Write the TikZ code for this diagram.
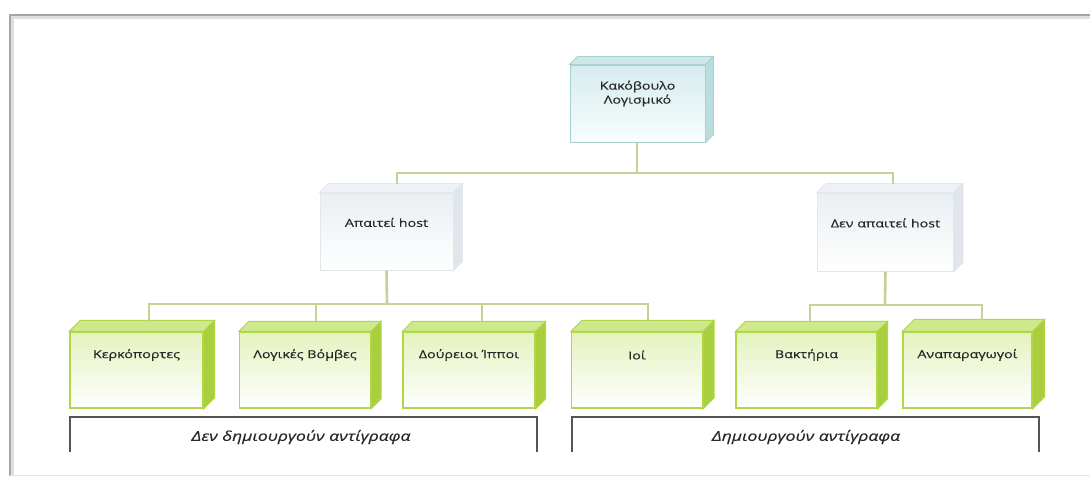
\documentclass[tikz,border=0pt]{standalone}
\usepackage{fontspec}
\setmainfont[FakeStretch=1.3,FakeBold=0.35]{Open Sans}
\definecolor{gborder}{RGB}{178,215,70}
\definecolor{gfronttop}{RGB}{228,242,190}
\definecolor{gtopface}{RGB}{206,232,140}
\definecolor{gside}{RGB}{170,207,62}
\definecolor{tborder}{RGB}{166,210,212}
\definecolor{tfronttop}{RGB}{214,236,238}
\definecolor{ttopface}{RGB}{206,232,234}
\definecolor{tside}{RGB}{186,222,224}
\definecolor{hborder}{RGB}{226,231,236}
\definecolor{hfronttop}{RGB}{234,239,243}
\definecolor{htopface}{RGB}{238,241,245}
\definecolor{hside}{RGB}{224,230,236}
\definecolor{conn}{RGB}{200,208,150}
\definecolor{txt}{RGB}{40,40,40}
\definecolor{brk}{RGB}{85,85,85}
\tikzset{
  gfront/.style={draw=gborder, line width=1.3pt, top color=gfronttop, bottom color=white, inner sep=0pt},
  gtop/.style={draw=gborder, line width=1pt, fill=gtopface},
  gsideface/.style={draw=gborder, line width=1pt, fill=gside},
  tfront/.style={draw=tborder, line width=1pt, top color=tfronttop, bottom color=white!85!tfronttop, inner sep=0pt},
  ttop/.style={draw=tborder, line width=0.8pt, fill=ttopface},
  tsideface/.style={draw=tborder, line width=0.8pt, fill=tside},
  hfront/.style={draw=hborder, line width=1pt, top color=hfronttop, bottom color=white, inner sep=0pt},
  htop/.style={draw=hborder, line width=0.8pt, fill=htopface},
  hsideface/.style={draw=hborder, line width=0.8pt, fill=hside},
  lbl/.style={text=txt, font=\fontsize{11}{14}\selectfont, align=center, inner sep=1pt},
  brlbl/.style={text=txt, font=\fontsize{13.5}{16}\selectfont\itshape, inner sep=1pt},
  connector/.style={draw=conn, line width=2.6pt},
  bracket/.style={draw=brk, line width=1.3pt},
}
% #1 name, #2 x, #3 y, #4 w, #5 h, #6 depth, #7 scheme, #8 text, #9 text shift
\newcommand\threedbox[9]{%
  \node[#7front, minimum width=#4, minimum height=#5] (#1) at (#2,#3) {};
  \path[#7top] (#1.north west) -- ++(#6,-#6) -- ([shift={(#6,-#6)}]#1.north east) -- (#1.north east) -- cycle;
  \path[#7sideface] (#1.north east) -- ++(#6,-#6) -- ([shift={(#6,-#6)}]#1.south east) -- (#1.south east) -- cycle;
  \node[lbl] (#1t) at ([yshift=#9]#1.center) {#8};
}
\begin{document}
\begin{tikzpicture}[x=1pt,y=-1pt]
\useasboundingbox (0,0) rectangle (1090,485);
\fill[white] (0,0) rectangle (1090,485);
% outer frame
\draw[gray!25, line width=3pt] (12,476) -- (12,17) -- (1092,17);
\draw[gray!70, line width=1.4pt] (10,476) -- (10,15) -- (1092,15);
\draw[gray!20, line width=1pt] (10,475) -- (1092,475);

% boxes
\threedbox{mal}{637.5}{103.5}{135}{77}{8}{t}{Κακόβουλο\\Λογισμικό}{10}
\threedbox{req}{386.5}{231.5}{133}{77}{9}{h}{Απαιτεί host}{9}
\threedbox{noreq}{885.5}{232}{136}{78}{9}{h}{Δεν απαιτεί host}{9}

\threedbox{back}{136.5}{370}{133}{76}{11}{g}{Κερκόπορτες}{15}
\threedbox{logic}{305}{370}{131}{76}{10}{g}{Λογικές Βόμβες}{15}
\threedbox{trojan}{469}{370}{132}{76}{10}{g}{Δούρειοι Ίπποι}{15}
\threedbox{virus}{637}{370}{131}{76}{11}{g}{Ιοί}{15}
\threedbox{bact}{806.5}{370}{141}{76}{10}{g}{Βακτήρια}{15}
\threedbox{repl}{967.5}{370}{129}{76}{12}{g}{Αναπαραγωγοί}{15}

% connectors level 1
\coordinate (j1) at (637,173);
\path[connector] (mal.south -| j1) -- (j1);
\path[connector] ([xshift=10.5,yshift=9]req.north) |- (j1) -| ([xshift=7.5,yshift=9]noreq.north);
% connectors level 2 left
\coordinate (j2) at (387,304);
\path[connector] (req.south) -- (j2);
\path[connector] ([xshift=12.5,yshift=10]back.north) |- (j2) -| ([xshift=11,yshift=10]virus.north);
\path[connector] ([xshift=11,yshift=10]logic.north) -- ([xshift=11]logic.north |- j2);
\path[connector] ([xshift=13,yshift=10]trojan.north) -- ([xshift=13]trojan.north |- j2);
% connectors level 2 right
\coordinate (j3) at (885,305);
\path[connector] (noreq.south) -- (j3);
\path[connector] ([xshift=3.5,yshift=10]bact.north) |- (j3) -| ([xshift=14.5,yshift=10]repl.north);

% brackets
\coordinate (b1a) at (70,452);
\coordinate (b1b) at (537,452);
\coordinate (b2a) at (572,452);
\coordinate (b2b) at (1039,452);
\path[bracket] (b1a) -- ++(0,-35) -| (b1b);
\path[bracket] (b2a) -- ++(0,-35) -| (b2b);
\node[brlbl] (nocopy) at (301,437) {Δεν δημιουργούν αντίγραφα};
\node[brlbl] (copy) at (806,437) {Δημιουργούν αντίγραφα};
\end{tikzpicture}
\end{document}
